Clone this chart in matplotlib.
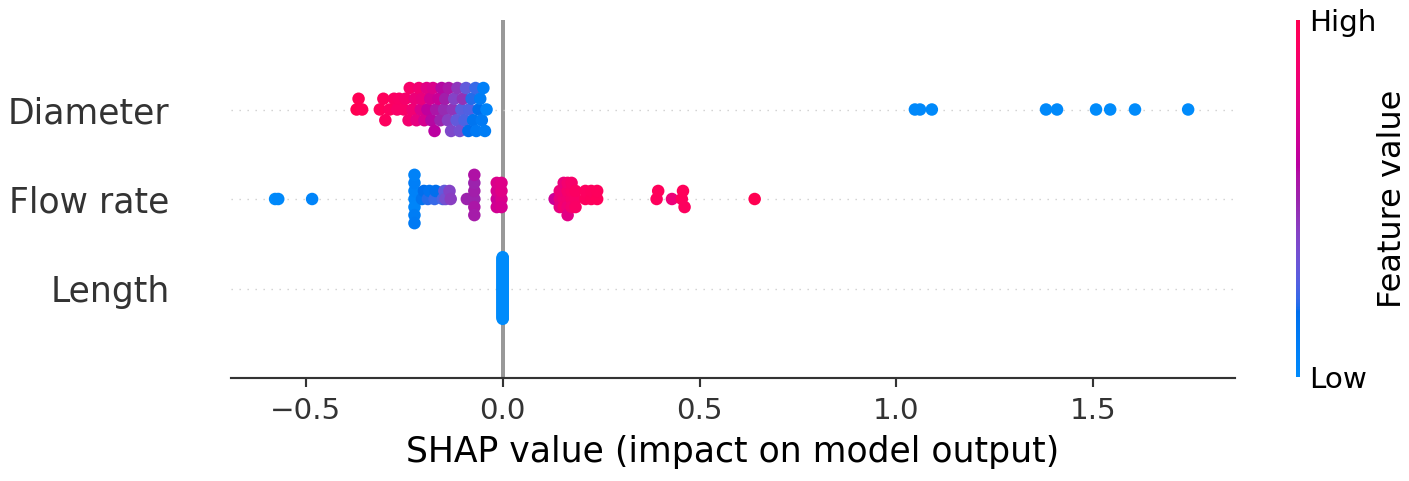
import matplotlib as mpl
mpl.use("Agg")
import matplotlib.pyplot as plt
import numpy as np
from matplotlib.colors import LinearSegmentedColormap

# features from top to bottom
features = ["Diameter", "Flow rate", "Length"]

diameter_shap = [
    -0.371, -0.366, -0.357,
    -0.312, -0.303, -0.298,
    -0.287, -0.276, -0.268, -0.263,
    -0.251, -0.247, -0.239, -0.236, -0.229,
    -0.223, -0.219, -0.213, -0.208, -0.205,
    -0.199, -0.193, -0.191, -0.184, -0.181, -0.177,
    -0.173, -0.169, -0.163, -0.158, -0.155,
    -0.149, -0.146, -0.139, -0.137, -0.131, -0.127,
    -0.123, -0.117, -0.115, -0.109, -0.105, -0.101,
    -0.097, -0.093, -0.087, -0.085, -0.079,
    -0.075, -0.069, -0.067, -0.061, -0.057,
    -0.053, -0.049, -0.045, -0.041,
    1.047, 1.060, 1.090, 1.380, 1.408, 1.507, 1.543, 1.606, 1.741]
diameter_value = [
    1.00, 0.98, 0.97,
    0.96, 0.95, 0.94,
    0.93, 0.92, 0.90, 0.91,
    0.90, 0.88, 0.86, 0.89, 0.84,
    0.82, 0.78, 0.85, 0.72, 0.80,
    0.70, 0.75, 0.62, 0.68, 0.58, 0.72,
    0.60, 0.55, 0.65, 0.50, 0.58,
    0.48, 0.52, 0.42, 0.55, 0.38, 0.45,
    0.40, 0.30, 0.44, 0.35, 0.28, 0.46,
    0.25, 0.30, 0.18, 0.26, 0.20,
    0.15, 0.22, 0.12, 0.18, 0.10,
    0.12, 0.08, 0.10, 0.05,
    0.02, 0.02, 0.01, 0.01, 0.01, 0.00, 0.00, 0.00, 0.00]

flow_shap = [
    -0.578, -0.570, -0.484,
    -0.224, -0.224, -0.224, -0.224, -0.224, -0.224, -0.224,
    -0.205, -0.200, -0.190, -0.186, -0.173, -0.170,
    -0.152, -0.148, -0.145, -0.135, -0.132,
    -0.091,
    -0.072, -0.072, -0.072, -0.072, -0.072, -0.072,
    -0.015, -0.015, -0.015, -0.015,
    -0.003, -0.003, -0.003, -0.003,
    0.132, 0.145, 0.145, 0.145,
    0.155, 0.155, 0.155, 0.155,
    0.165, 0.165, 0.165, 0.165, 0.165,
    0.175, 0.175, 0.175, 0.175,
    0.185, 0.185, 0.185,
    0.210, 0.210, 0.225, 0.225, 0.240, 0.240,
    0.391, 0.395, 0.430, 0.455, 0.458, 0.462,
    0.640]
flow_value = [
    0.00, 0.02, 0.05,
    0.05, 0.06, 0.04, 0.08, 0.10, 0.06, 0.12,
    0.15, 0.18, 0.20, 0.16, 0.22, 0.18,
    0.25, 0.30, 0.35, 0.40, 0.42,
    0.50,
    0.50, 0.52, 0.55, 0.50, 0.53, 0.56,
    0.65, 0.70, 0.68, 0.72,
    0.72, 0.75, 0.70, 0.74,
    0.66, 0.80, 0.82, 0.78,
    0.84, 0.82, 0.86, 0.80,
    0.85, 0.88, 0.83, 0.86, 0.76,
    0.88, 0.90, 0.86, 0.89,
    0.90, 0.92, 0.91,
    0.94, 0.93, 0.95, 0.94, 0.96, 0.95,
    0.95, 0.96, 0.82, 0.95, 0.96, 0.94,
    1.00]

length_shap = [0.0] * 66
length_value = [0.0] * 66

shap_rows = [diameter_shap, flow_shap, length_shap]
value_rows = [diameter_value, flow_value, length_value]


def lch2rgb(L, C, h):
    a = C * np.cos(h)
    b = C * np.sin(h)
    fy = (L + 16) / 116.0
    fx = fy + a / 500.0
    fz = fy - b / 200.0

    def finv(t):
        return t ** 3 if t ** 3 > 0.008856 else (t - 16 / 116.0) / 7.787

    X = 0.95047 * finv(fx)
    Y = 1.0 * finv(fy)
    Z = 1.08883 * finv(fz)
    rgb = np.array([3.2406 * X - 1.5372 * Y - 0.4986 * Z,
                    -0.9689 * X + 1.8758 * Y + 0.0415 * Z,
                    0.0557 * X - 0.2040 * Y + 1.0570 * Z])
    rgb = np.where(rgb <= 0.0031308, 12.92 * rgb, 1.055 * np.abs(rgb) ** (1 / 2.4) - 0.055)
    return np.clip(rgb, 0, 1)


# shap-like red/blue colormap
nsteps = 100
l_vals = list(np.linspace(54., 40., nsteps // 2)) + list(np.linspace(40., 54., nsteps // 2))
c_vals = np.linspace(70., 90., nsteps)
h_vals = np.linspace(4.6588, 0.35470565 + 2 * np.pi, nsteps)
cols = [lch2rgb(l, c, h) for l, c, h in zip(l_vals, c_vals, h_vals)]
red_blue = LinearSegmentedColormap.from_list("red_blue", cols)


def beeswarm(vals, row_height=0.4, nbins=100):
    vals = np.asarray(vals, dtype=float)
    quant = np.round(nbins * (vals - vals.min()) / (vals.max() - vals.min() + 1e-8))
    inds = np.argsort(quant, kind="mergesort")
    layer = 0
    last_bin = -1
    ys = np.zeros(len(vals))
    for ind in inds:
        if quant[ind] != last_bin:
            layer = 0
        ys[ind] = np.ceil(layer / 2) * ((layer % 2) * 2 - 1)
        layer += 1
        last_bin = quant[ind]
    ys *= 0.9 * (row_height / np.max(ys + 1))
    return ys


dpi = 192
fig = plt.figure(figsize=(1409 / dpi, 481 / dpi), dpi=dpi)
ax = fig.add_axes([231 / 1409, 103 / 481, 1004 / 1409, 358 / 481])

axis_color = "#333333"
n = len(features)
ax.axvline(x=0, color="#999999", zorder=-1)
for i, (name, sv, fv) in enumerate(zip(features, shap_rows, value_rows)):
    pos = n - 1 - i
    ax.axhline(y=pos, color="#cccccc", lw=0.5, dashes=(1, 5), zorder=-1)
    ys = beeswarm(sv)
    ax.scatter(sv, pos + ys, c=fv, cmap=red_blue, vmin=0, vmax=1, s=22,
               linewidth=0, alpha=1, zorder=3)

ax.set_yticks(range(n))
ax.set_yticklabels(features[::-1], fontsize=13)
ax.set_ylim(-1, n)
ax.set_xlim(-0.69, 1.86)
ax.set_xticks([-0.5, 0.0, 0.5, 1.0, 1.5])
ax.set_xlabel("SHAP value (impact on model output)", fontsize=13)
ax.tick_params("y", length=0, pad=23)
ax.tick_params("x", labelsize=11, color=axis_color, labelcolor=axis_color)
ax.tick_params("y", labelcolor=axis_color)
ax.spines["right"].set_visible(False)
ax.spines["top"].set_visible(False)
ax.spines["left"].set_visible(False)
ax.spines["bottom"].set_color(axis_color)

cax = fig.add_axes([1296 / 1409, 104 / 481, 4 / 1409, 357 / 481])
sm = mpl.cm.ScalarMappable(cmap=red_blue, norm=mpl.colors.Normalize(0, 1))
cb = fig.colorbar(sm, cax=cax, ticks=[0, 1])
cb.set_ticklabels(["Low", "High"])
cb.set_label("Feature value", size=12, labelpad=0)
cb.ax.tick_params(labelsize=11, length=0)
cb.outline.set_visible(False)

fig.savefig("out.png", dpi=dpi)
